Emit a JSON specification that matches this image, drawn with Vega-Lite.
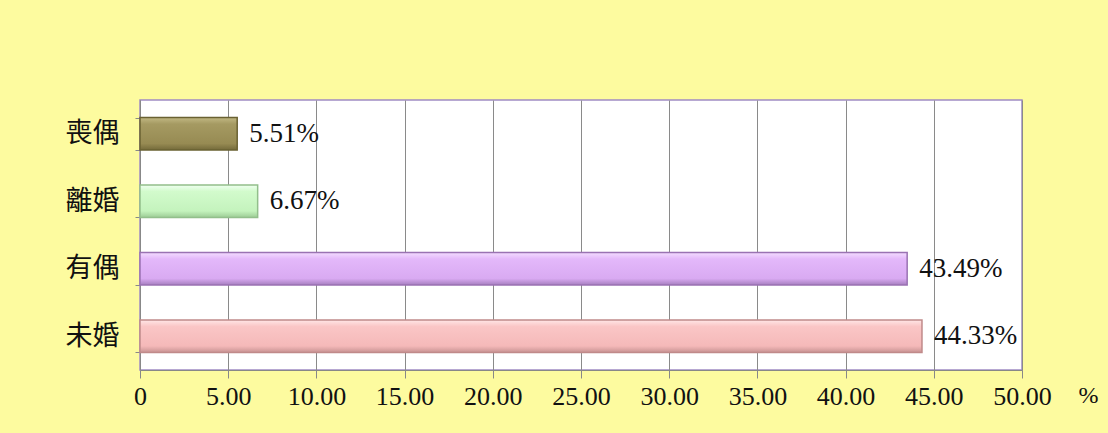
{
  "$schema": "https://vega.github.io/schema/vega-lite/v6.json",
  "autosize": "none",
  "width": 882,
  "height": 270,
  "padding": {"left": 140, "top": 100, "right": 86, "bottom": 63},
  "background": "#fdfb9f",
  "data": {"values": [
    {"cat": "喪偶", "v": 5.51},
    {"cat": "離婚", "v": 6.67},
    {"cat": "有偶", "v": 43.49},
    {"cat": "未婚", "v": 44.33}
  ]},
  "transform": [{"calculate": "format(datum.v, '.2f') + '%'", "as": "label"}],
  "config": {
    "view": {"stroke": "#a08cc4", "strokeWidth": 1.5, "fill": "white"},
    "axis": {"labelFont": "Liberation Serif", "titleFont": "Liberation Serif", "labelColor": "#111", "titleColor": "#111"}
  },
  "encoding": {
    "y": {"field": "cat", "type": "nominal", "sort": ["喪偶", "離婚", "有偶", "未婚"],
      "scale": {"paddingInner": 0.52, "paddingOuter": 0.26},
      "axis": {"title": null, "labelFont": "Noto Sans CJK TC", "labelFontSize": 27, "labelPadding": 16, "tickSize": 5, "tickBand": "extent", "tickColor": "#888", "domainColor": "#888", "grid": false}},
    "x": {"field": "v", "type": "quantitative", "scale": {"domain": [0, 50], "nice": false},
      "axis": {"values": [0, 5, 10, 15, 20, 25, 30, 35, 40, 45, 50],
        "labelExpr": "datum.value == 0 ? '0' : format(datum.value, '.2f')",
        "labelFlush": false, "labelOverlap": false,
        "labelFontSize": 26, "labelPadding": 5, "tickSize": 8, "tickColor": "#888", "domainColor": "#888",
        "grid": true, "gridColor": "#8a8a8a", "gridWidth": 1,
        "title": "%", "titleFontSize": 24, "titleFontWeight": "normal", "titleX": 948, "titleY": 25, "titleAlign": "center", "titleBaseline": "middle"}}
  },
  "layer": [
    {
      "transform": [{"filter": "datum.cat == '喪偶'"}],
      "mark": {"type": "bar", "strokeWidth": 1.5, "stroke": "#6a6132",
        "color": {"gradient": "linear", "x1": 0, "y1": 0, "x2": 0, "y2": 1, "stops": [
          {"offset": 0, "color": "#c2b884"}, {"offset": 0.2, "color": "#a59a62"}, {"offset": 0.8, "color": "#978b53"}, {"offset": 1, "color": "#746a3a"}]}}
    },
    {
      "transform": [{"filter": "datum.cat == '離婚'"}],
      "mark": {"type": "bar", "strokeWidth": 1.5, "stroke": "#92bf8b",
        "color": {"gradient": "linear", "x1": 0, "y1": 0, "x2": 0, "y2": 1, "stops": [
          {"offset": 0, "color": "#effff0"}, {"offset": 0.2, "color": "#d2fbcc"}, {"offset": 0.8, "color": "#c4f3bd"}, {"offset": 1, "color": "#9ccc95"}]}}
    },
    {
      "transform": [{"filter": "datum.cat == '有偶'"}],
      "mark": {"type": "bar", "strokeWidth": 1.5, "stroke": "#9a72b3",
        "color": {"gradient": "linear", "x1": 0, "y1": 0, "x2": 0, "y2": 1, "stops": [
          {"offset": 0, "color": "#f3dcff"}, {"offset": 0.2, "color": "#e3b8fa"}, {"offset": 0.8, "color": "#d9aaf2"}, {"offset": 1, "color": "#a77fc0"}]}}
    },
    {
      "transform": [{"filter": "datum.cat == '未婚'"}],
      "mark": {"type": "bar", "strokeWidth": 1.5, "stroke": "#c08a8a",
        "color": {"gradient": "linear", "x1": 0, "y1": 0, "x2": 0, "y2": 1, "stops": [
          {"offset": 0, "color": "#ffe6e6"}, {"offset": 0.2, "color": "#fac6c6"}, {"offset": 0.8, "color": "#f5b9b9"}, {"offset": 1, "color": "#c89393"}]}}
    },
    {
      "mark": {"type": "text", "align": "left", "baseline": "middle", "dx": 12, "font": "Liberation Serif", "fontSize": 27, "color": "#111"},
      "encoding": {"text": {"field": "label", "type": "nominal"}}
    }
  ]
}
